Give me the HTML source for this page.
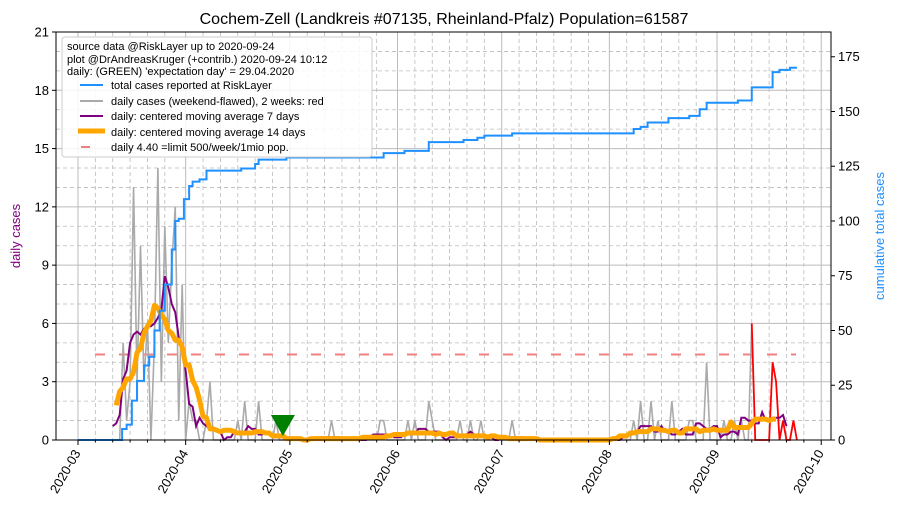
<!DOCTYPE html>
<html><head><meta charset="utf-8">
<style>
body{margin:0;background:#fff;}
svg{font-family:"Liberation Sans","DejaVu Sans",sans-serif;}
</style></head>
<body>
<svg id="chart" width="897" height="516" viewBox="0 0 897 516" xmlns="http://www.w3.org/2000/svg">
<g id="grid"></g>
<g id="marks"></g>
<g id="axes"></g>
<text x="444" y="24" text-anchor="middle" font-size="16">Cochem-Zell (Landkreis #07135, Rheinland-Pfalz) Population=61587</text>
<text transform="translate(20,236) rotate(-90)" text-anchor="middle" font-size="13" fill="purple">daily cases</text>
<text transform="translate(884,236) rotate(-90)" text-anchor="middle" font-size="13" fill="#1e90ff">cumulative total cases</text>
<g id="legend">
<rect x="62" y="37" width="310" height="120" rx="3" fill="#fff" fill-opacity="0.85" stroke="#ccc"/>
<text x="67" y="50" font-size="11">source data @RiskLayer up to 2020-09-24</text>
<text x="67" y="63" font-size="11">plot @DrAndreasKruger (+contrib.) 2020-09-24 10:12</text>
<text x="67" y="75" font-size="11">daily: (GREEN) 'expectation day' = 29.04.2020</text>
<line x1="80" y1="85" x2="103" y2="85" stroke="#1e90ff" stroke-width="2"/>
<text x="111" y="89" font-size="11">total cases reported at RiskLayer</text>
<line x1="80" y1="101" x2="103" y2="101" stroke="#aaa" stroke-width="2"/>
<text x="111" y="105" font-size="11">daily cases (weekend-flawed), 2 weeks: red</text>
<line x1="80" y1="116" x2="103" y2="116" stroke="purple" stroke-width="2"/>
<text x="111" y="120" font-size="11">daily: centered moving average 7 days</text>
<line x1="78" y1="131" x2="105" y2="131" stroke="orange" stroke-width="5"/>
<text x="111" y="136" font-size="11">daily: centered moving average 14 days</text>
<line x1="81" y1="147" x2="90" y2="147" stroke="#f08080" stroke-width="2"/>
<text x="111" y="151" font-size="11">daily 4.40 =limit 500/week/1mio pop.</text>
</g>
</svg>
<script>
// day index 0 = 2020-03-01
const daily = [0,0,0,0,0,0,0,0,0,0,0,0,0,5,1,3,13,3,10,3,6,0,5,14,3,11,5,9,12,1,
8,0,2,1,1,0,0,1,3,0,0,0,0,0,0,0,1,0,2,0,0,0,2,0,0,0,0,1,0,0,
0,0,0,0,0,0,0,0,0,0,0,0,0,1,0,0,0,0,0,0,0,0,0,0,0,0,0,1,1,0,
0,0,0,0,0,1,0,1,0,0,0,2,1,0,0,0,0,0,0,0,1,0,0,1,0,0,1,0,0,0,
0,0,0,0,0,1,0,0,0,0,0,0,0,0,0,0,0,0,0,0,0,0,0,0,0,0,0,0,0,0,
0,0,0,0,0,0,0,0,0,0,1,0,2,0,0,2,0,1,0,0,0,2,0,0,0,0,1,1,0,0,
0,4,0,0,0,0,1,0,0,1,0,1,0,0,6,0,0,0,0,0,4,3,0,1,0,0,1,0];
const cumDays =   [0,11,12.7,14,15.5,17,19,20.5,22,23.5,25,27,28,29,30.5,32,33,35,37,45,47,51,52,59,60,87,88,94,101,111,115,117,125,158,160,162,164,170,176,179,181,189,190,194,200,202,205,207];
const cumValues = [0,0,5,7,18,27,34,38,50,59,71,87,100,101,110,116,118,119,123,123,124,126,128,128,129,129,131,132,136,137,138,139,140,140,142,143,145,147,148,151,154,154,155,161,168,169,170,170];
const leftTicks = [0,3,6,9,12,15,18,21];
const rightTicks = [0,25,50,75,100,125,150,175];
const monthDays = [0,31,61,92,122,153,184,214];
const monthLabels = ["2020-03","2020-04","2020-05","2020-06","2020-07","2020-08","2020-09","2020-10"];
const limitValue = 4.40;
const expectationDay = 59;
const redFrom = 194;

const L=56,R=831,T=32,B=440;
const xS=d=>78+d*3.473;
const yL=v=>B-v*(B-T)/21;
const yR=v=>B-v*(B-T)/186.3;
const NS="http://www.w3.org/2000/svg";
function mk(p,tag,attrs){const e=document.createElementNS(NS,tag);for(const k in attrs)e.setAttribute(k,attrs[k]);p.appendChild(e);return e;}
const grid=document.getElementById('grid'),marks=document.getElementById('marks'),axes=document.getElementById('axes');
for(let v=0;v<=21;v++){const g=mk(grid,'line',{x1:L,x2:R,y1:yL(v),y2:yL(v),stroke:'#bbb','stroke-width':v%3?0.8:1,'stroke-dasharray':v%3?'4,3':''});

}
monthDays.forEach((d,i)=>{const g=mk(grid,'line',{x1:xS(d),x2:xS(d),y1:T,y2:B,stroke:'#bbb','stroke-width':1});


if(i<monthDays.length-1){for(let k=5;k<26;k+=5){const m=mk(grid,'line',{x1:xS(d+k),x2:xS(d+k),y1:T,y2:B,stroke:'#bbb','stroke-width':0.8,'stroke-dasharray':'4,3'});

}}});
const lim=mk(marks,'line',{x1:95,x2:796,y1:yL(limitValue),y2:yL(limitValue),stroke:'#f08080','stroke-width':2,'stroke-dasharray':'10,14'});


let gp=[],rp=[];
daily.forEach((v,d)=>{if(d<=redFrom)gp.push(xS(d)+','+yL(v));if(d>=redFrom)rp.push(xS(d)+','+yL(v));});
const gl=mk(marks,'polyline',{points:gp.join(' '),fill:'none',stroke:'#aaa','stroke-width':1.6});


const rl=mk(marks,'polyline',{points:rp.join(' '),fill:'none',stroke:'red','stroke-width':1.8});


function ma(w){const out=[];const h1=Math.floor(w/2),h2=w-1-h1;for(let d=h1;d<daily.length-h2;d++){let s=0;for(let k=d-h1;k<=d+h2;k++)s+=daily[k];out.push([d,s/w]);}return out;}
const m7=ma(7).filter(p=>p[0]>=10);
const p7=mk(marks,'polyline',{points:m7.map(p=>xS(p[0])+','+yL(p[1])).join(' '),fill:'none',stroke:'purple','stroke-width':2});


const m14=ma(14).filter(p=>p[0]>=11);
const p14=mk(marks,'polyline',{points:m14.map(p=>xS(p[0])+','+yL(p[1])).join(' '),fill:'none',stroke:'orange','stroke-width':5,'stroke-linejoin':'round'});


let cp=[];
cumDays.forEach((d,i)=>{if(i>0)cp.push(xS(d)+','+yR(cumValues[i-1]));cp.push(xS(d)+','+yR(cumValues[i]));});
const cl=mk(marks,'polyline',{points:cp.join(' '),fill:'none',stroke:'#1e90ff','stroke-width':2});


const ex=xS(expectationDay);
const tri=mk(marks,'polygon',{points:`${ex-12},${B-25} ${ex+12},${B-25} ${ex},${B-4}`,fill:'green'});


const fr=mk(axes,'rect',{x:L,y:T,width:R-L,height:B-T,fill:'none',stroke:'#000','stroke-width':1});


leftTicks.forEach(v=>{mk(axes,'line',{x1:L-4,x2:L,y1:yL(v),y2:yL(v),stroke:'#000'});
const t=mk(axes,'text',{x:L-7,y:yL(v)+4.5,'text-anchor':'end','font-size':13});t.textContent=v;

});
rightTicks.forEach(v=>{mk(axes,'line',{x1:R,x2:R+4,y1:yR(v),y2:yR(v),stroke:'#000'});
const t=mk(axes,'text',{x:R+7,y:yR(v)+4.5,'font-size':13});t.textContent=v;

});
monthDays.forEach((d,i)=>{const x=xS(d);mk(axes,'line',{x1:x,x2:x,y1:B,y2:B+5,stroke:'#000'});
if(i<monthDays.length-1){for(let k=5;k<26;k+=5)mk(axes,'line',{x1:xS(d+k),x2:xS(d+k),y1:B,y2:B+2.5,stroke:'#000'});}
const t=mk(axes,'text',{transform:`translate(${x+3},${B+13}) rotate(-60)`,'text-anchor':'end','font-size':13});t.textContent=monthLabels[i];

});
</script>
</body></html>
